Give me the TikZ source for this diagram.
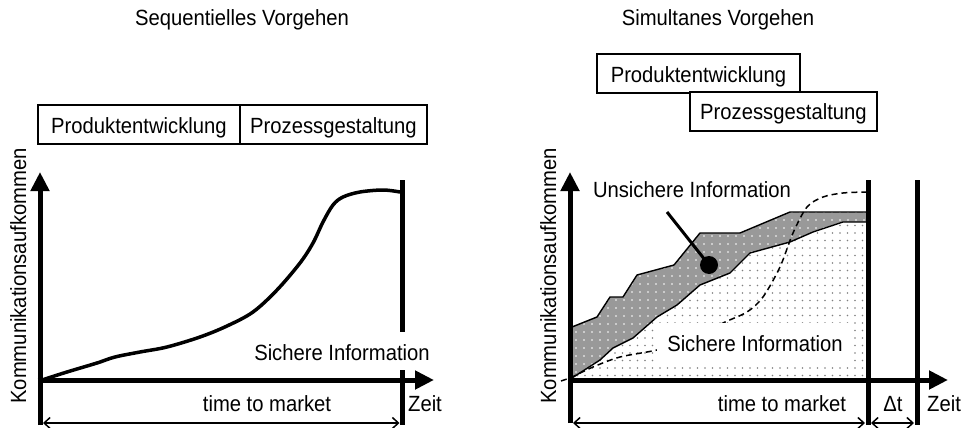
\documentclass[tikz,border=0pt]{standalone}
\usepackage{fontspec}
\setmainfont{Liberation Sans}[FakeStretch=0.92]
\usetikzlibrary{arrows.meta,patterns.meta}
\begin{document}
\begin{tikzpicture}[x=1pt,y=-1pt,
  txt/.style={font=\fontsize{22}{26}\selectfont, inner sep=0pt, anchor=base},
  phase/.style={draw, line width=1.3pt, font=\fontsize{22}{26}\selectfont,
    minimum height=39pt, inner xsep=0pt, inner ysep=9pt,
    text height=19pt, text depth=2pt},
  axis/.style={line width=5pt, -{Triangle[length=19pt,width=18pt]}},
  marker/.style={line width=5pt},
  span/.style={line width=1.5pt,
    {Straight Barb[length=6pt,width=11pt]}-{Straight Barb[length=6pt,width=11pt]}},
  band/.style={line width=1.4pt, line join=round},
]
\useasboundingbox (0,0) rectangle (962,428);

% ---------- titles ----------
\node[txt] (t1) at (242,26) {Sequentielles Vorgehen};
\node[txt] (t2) at (718,26) {Simultanes Vorgehen};

% ---------- sequential: phase bar ----------
\node[phase, minimum width=202pt] (pe1) at (139,124.5) {Produktentwicklung};
\node[phase, minimum width=187pt] (pg1) at (333.5,124.5) {Prozessgestaltung};

% ---------- sequential: chart ----------
\draw[line width=3.5pt, line cap=round, line join=round]
  plot[smooth, tension=0.55] coordinates {
    (42,380) (67,372) (97,363) (115,357) (140,352) (167,347) (200,337)
    (227,326) (253,312) (277,290) (300,263) (313,243) (323,222) (333,205)
    (343,197) (360,192) (383,190) (400,192)};

\coordinate (o1) at (40,425);
\coordinate (y1) at (40,172);
\coordinate (xs1) at (37.5,380);
\coordinate (x1) at (434,380);
\draw[axis] (o1) -- (y1);
\draw[axis] (xs1) -- (x1);

\coordinate (m1a) at (402,180);
\coordinate (m1b) at (402,332);
\coordinate (m1c) at (402,370);
\coordinate (m1d) at (402,425);
\draw[marker] (m1a) -- (m1b);
\draw[marker] (m1c) -- (m1d);

\coordinate (s1a) at (43,423);
\coordinate (s1b) at (399.5,423);
\draw[span] (s1a) -- (s1b);

\node[txt] (si1) at (342,360) {Sichere Information};
\node[txt] (ttm1) at (267,411) {time to market};
\node[txt] (z1) at (425,411) {Zeit};
\node[txt, rotate=90] (k1) at (26,276) {Kommunikationsaufkommen};

% ---------- simultaneous: phase bars ----------
\node[phase, minimum width=203pt] (pe2) at (698.5,73.5) {Produktentwicklung};
\node[phase, minimum width=187pt, fill=white] (pg2) at (783.5,111.5) {Prozessgestaltung};

% ---------- simultaneous: chart ----------
% certain information (area under the band)
\path[pattern={Dots[distance=7.5pt, radius=0.8pt]}, pattern color=black!50]
  (572,378) -- (600,360) -- (613,348) -- (633,338) -- (657,317) -- (677,305)
  -- (700,285) -- (730,273) -- (750,253) -- (790,242) -- (813,232) -- (843,222)
  -- (867,222) -- (867,380) -- (572,380) -- cycle;

% uncertain information (band)
\path[fill=black!40,
      postaction={pattern={Dots[distance=8pt, radius=0.9pt]}, pattern color=white}]
  (572,327) -- (597,317) -- (610,297) -- (623,297) -- (637,275) -- (674,265)
  -- (700,233) -- (740,233) -- (790,212) -- (867,212)
  -- (867,222) -- (843,222) -- (813,232) -- (790,242) -- (750,253) -- (730,273)
  -- (700,285) -- (677,305) -- (657,317) -- (633,338) -- (613,348) -- (600,360)
  -- (572,378) -- cycle;
\draw[band]
  (572,327) -- (597,317) -- (610,297) -- (623,297) -- (637,275) -- (674,265)
  -- (700,233) -- (740,233) -- (790,212) -- (867,212);
\draw[band]
  (572,378) -- (600,360) -- (613,348) -- (633,338) -- (657,317) -- (677,305)
  -- (700,285) -- (730,273) -- (750,253) -- (790,242) -- (813,232) -- (843,222)
  -- (867,222);

% sequential curve for comparison
\draw[line width=1.5pt, dash pattern=on 6pt off 4pt]
  plot[smooth, tension=0.5] coordinates {
    (561,381) (572,377) (593,367) (620,357) (657,350) (690,340) (723,323)
    (747,312) (763,297) (780,267) (793,233) (807,207) (823,197) (843,193)
    (866,192)};

\node[txt, anchor=center, fill=white, minimum width=196pt, minimum height=39pt,
      inner ysep=9pt, text height=19pt, text depth=2pt] (si2) at (755,342.5)
  {Sichere Information};

\coordinate (o2) at (570,423);
\coordinate (y2) at (570,172);
\coordinate (xs2) at (567.5,380);
\coordinate (x2) at (948,380);
\draw[axis] (o2) -- (y2);
\draw[axis] (xs2) -- (x2);

\coordinate (m2a) at (868,180);
\coordinate (m2b) at (868,425);
\coordinate (m3a) at (917,180);
\coordinate (m3b) at (917,425);
\draw[marker] (m2a) -- (m2b);
\draw[marker] (m3a) -- (m3b);

\coordinate (s2a) at (573,423);
\coordinate (s2b) at (865,423);
\coordinate (s3a) at (871,423);
\coordinate (s3b) at (914,423);
\draw[span] (s2a) -- (s2b);
\draw[span] (s3a) -- (s3b);

\node[txt] (ttm2) at (782,411) {time to market};
\node[txt] (dt) at (893,411) {Δt};
\node[txt] (z2) at (944,411) {Zeit};
\node[txt, rotate=90] (k2) at (556,276) {Kommunikationsaufkommen};

\node[txt] (un) at (692,197) {Unsichere Information};
\coordinate (ptr) at (667,212);
\node[circle, fill=black, inner sep=0pt, minimum size=18pt] (dot) at (709,265) {};
\draw[line width=3pt] (ptr) -- (dot.center);
\end{tikzpicture}
\end{document}
